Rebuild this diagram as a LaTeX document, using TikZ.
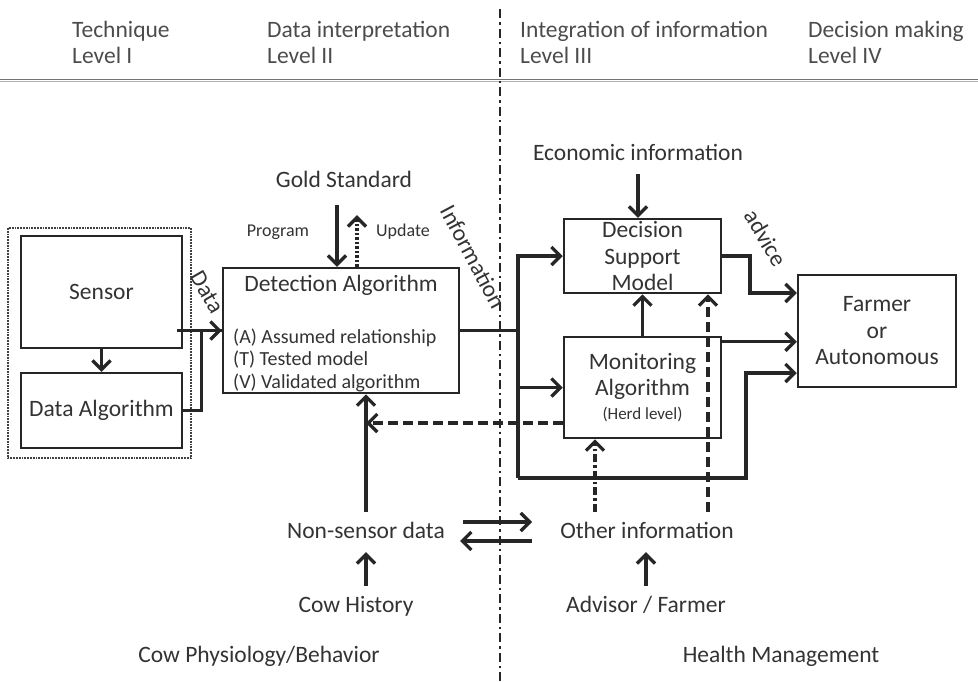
\documentclass[tikz,border=0pt]{standalone}
\usepackage{fontspec}
\setmainfont{Carlito}
\usetikzlibrary{arrows.meta}
\begin{document}
\begin{tikzpicture}[x=1pt,y=-1pt,
		font=\fontsize{23.5}{26.5}\selectfont, text=black!80,
		box/.style={draw=black!85, line width=2.5pt, inner sep=0pt, align=center},
		lbl/.style={inner xsep=0pt, inner ysep=11pt, text height=15pt, text depth=3pt},
		hd/.style={anchor=base west, inner sep=0pt, text=black!70},
		tiny/.style={font=\fontsize{18}{20}\selectfont, inner sep=0pt},
		rot/.style={inner sep=0pt},
		ln/.style={draw=black!85, line width=3.3pt},
		arr/.style={ln, -{Straight Barb[length=9pt,width=18pt]}},
		dasharr/.style={arr, dash pattern=on 10pt off 5pt},
		ddarr/.style={arr, dash pattern=on 8pt off 3pt on 2.5pt off 3pt},
		dotarr/.style={arr, dash pattern=on 2.5pt off 2pt}]
		\useasboundingbox (0,0) rectangle (978,681);
		\foreach \x/\a/\b in {72/Technique/Level I, 267/Data interpretation/Level II,
			520/Integration of information/Level III, 808/Decision making/Level IV} {
			\node[hd] (hd\x a) at (\x,37) {\a};
			\node[hd] (hd\x b) at (\x,63) {\b};
		}
		\draw[black!55, line width=1.6pt] (0,79.5) -- (978,79.5);
		\draw[black!30, line width=1.6pt] (0,81.5) -- (978,81.5);
		\draw[black!85, line width=2.2pt, dash pattern=on 9pt off 4pt on 2.5pt off 4pt] (500,9) -- (500,681);
		
		\draw[black!75, line width=1.8pt, densely dotted] (8,228) rectangle (191,458);
		\node[box, minimum width=161pt, minimum height=112pt] (sensor) at (101.5,292) {Sensor};
		\node[box, minimum width=161pt, minimum height=75pt] (dataalg) at (101.5,410.5) {Data Algorithm};
		\node[box, minimum width=236pt, minimum height=125pt] (detect) at (341,330.5) {};
		\node[inner sep=0pt] (dettitle) at (341,285) {Detection Algorithm};
		\node[anchor=west, align=left, inner sep=0pt, font=\fontsize{20}{22.5}\selectfont] (detlist) at (233,360)
			{(A) Assumed relationship\\(T) Tested model\\(V) Validated algorithm};
		\node[box, minimum width=157pt, minimum height=74pt] (dsm) at (642.5,256) {Decision\\Support\\Model};
		\node[box, minimum width=157pt, minimum height=101pt] (mon) at (642.5,387.5)
			{Monitoring\\Algorithm\\[-3pt]{\fontsize{17}{20}\selectfont(Herd level)}};
		\node[box, minimum width=158pt, minimum height=112pt] (farmer) at (877,331) {Farmer\\or\\Autonomous};
		
		\node[lbl] (gold) at (344,181) {Gold Standard};
		\node[lbl] (econ) at (638,154) {Economic information};
		\node[lbl] (nonsensor) at (366,532) {Non-sensor data};
		\node[lbl] (other) at (647,532) {Other information};
		\node[lbl] (cowhist) at (356,606) {Cow History};
		\node[lbl] (advisor) at (646,606) {Advisor / Farmer};
		\node[lbl] (physio) at (259,656) {Cow Physiology/Behavior};
		\node[lbl] (health) at (781,656) {Health Management};
		\node[tiny] (program) at (278,232) {Program};
		\node[tiny] (update) at (403,232) {Update};
		\node[rot, rotate=-60] (datalbl) at (207,292) {Data};
		\node[rot, rotate=-62] (infolbl) at (473,257) {Information};
		\node[rot, rotate=-59] (advlbl) at (766,238) {advice};
		
		\draw[arr] (sensor.south) -- (dataalg.north);
		\path ([xshift=-6pt]sensor.east) coordinate (s1);
		\draw[arr] (s1 |- detect.west) -- (detect.west);
		\draw[ln, line join=miter] (dataalg.east) -- ++(18,0) |- (detect.west);
		\path ([xshift=-7pt,yshift=-4pt]gold.south) coordinate (prg);
		\draw[arr] (prg) -- (prg |- detect.north);
		\path ([xshift=13pt,yshift=-14pt]gold.south) coordinate (upd);
		\draw[dotarr] (upd |- detect.north) -- (upd);
		
		\coordinate (jn) at (518,478);
		\draw[ln] (detect.east) -- (detect.east -| jn);
		\draw[arr, line join=miter] (jn) |- (dsm.west);
		\draw[arr] (jn |- mon.west) -- (mon.west);
		\coordinate (lp) at (746,373);
		\draw[arr, line join=miter] (jn) -| (lp) -- (lp -| farmer.west);
		\coordinate (ad) at (750,293);
		\draw[arr, line join=miter] (dsm.east) -| (ad) -- (ad -| farmer.west);
		\path ([yshift=-6pt]mon.north east) coordinate (mf);
		\draw[arr] (mf) -- (mf -| farmer.west);
		\draw[arr] (econ.south) -- (econ.south |- dsm.north);
		\draw[arr] (mon.north) -- (dsm.south);
		\path ([yshift=-35.5pt]mon.west) coordinate (fbk);
		\draw[dasharr] (fbk) -- (fbk -| nonsensor.north);
		
		\draw[arr] (nonsensor.north) -- (nonsensor.north |- detect.south);
		\draw[arr] (cowhist.north -| nonsensor.north) -- (nonsensor.south);
		\draw[arr] (advisor.north) -- (advisor.north |- other.south);
		\draw[arr] ([shift={(18pt,10pt)}]nonsensor.east) -- ([shift={(-28pt,10pt)}]other.west);
		\draw[arr] ([shift={(-28pt,-9pt)}]other.west) -- ([shift={(15pt,-9pt)}]nonsensor.east);
		\path ([xshift=-52pt]other.north) coordinate (o1);
		\draw[ddarr] (o1) -- (o1 |- mon.south);
		\path ([xshift=61pt]other.north) coordinate (o2);
		\draw[dasharr] (o2) -- (o2 |- dsm.south);
\end{tikzpicture}
\end{document}
